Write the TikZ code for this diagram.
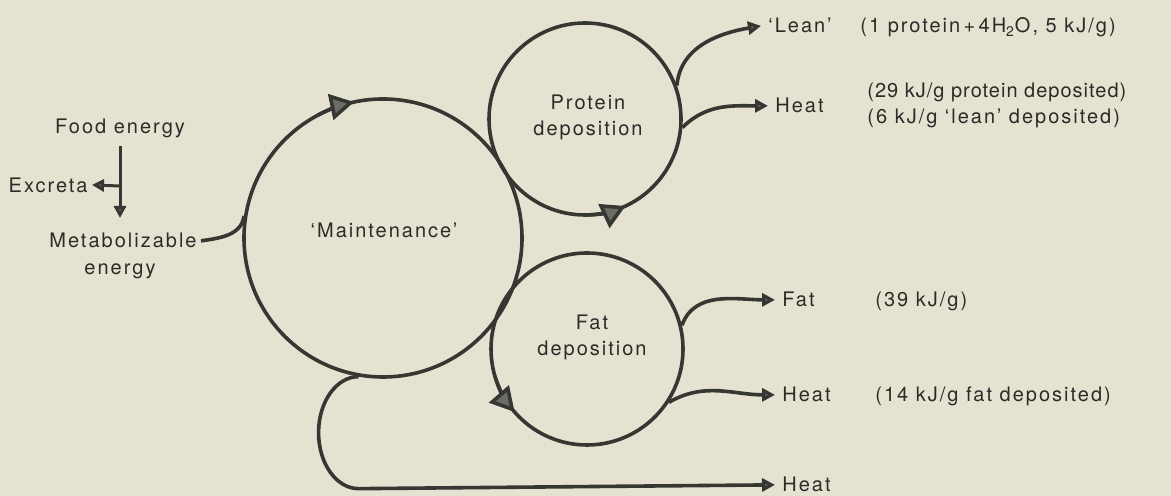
\documentclass[tikz,border=0pt]{standalone}
\usepackage{fontspec}
\setmainfont[LetterSpace=10]{TeX Gyre Heros}
\usetikzlibrary{positioning,arrows.meta,calc}
\definecolor{paper}{RGB}{229,226,209}
\definecolor{ink}{RGB}{54,54,50}
\definecolor{tipgray}{RGB}{108,108,102}

\begin{document}
\begin{tikzpicture}[
  x=0.5pt, y=0.5pt,
  font=\fontsize{10}{13}\selectfont,
  flow/.style={draw=ink, line width=1.8pt},
  pool/.style={circle, draw=ink, line width=1.8pt, inner sep=0pt},
  lab/.style={text=ink!80!black, inner sep=3.5pt},
  note/.style={text=ink!80!black, inner sep=0pt, anchor=base west},
  outflow/.style={flow, -{Triangle[length=6.5pt, width=6.5pt, fill=tipgray]}},
  turn/.style={flow, -{Triangle[length=12pt, width=13pt, fill=tipgray]}},
  feed/.style={flow, line width=1.5pt, -{Triangle[length=6pt, width=6pt, fill=tipgray]}},
]
\def\rM{139}  % maintenance radius in px
\def\rP{96}   % protein radius in px
\def\rF{96}   % fat radius in px

\path[fill=paper, use as bounding box] (0,0) rectangle (1171,496);

% ---- the three energy pools ----
\node[pool, minimum size=\rM pt] (maint) at (383,258) {};
\node[pool, minimum size=\rP pt] (prot) at (585,377) {};
\node[pool, minimum size=\rF pt] (fat) at (587,147) {};
\node[lab, inner sep=0pt] (maintlbl) at (384,266) {`Maintenance'};
\node[lab, inner sep=0pt, align=center] (protlbl) at (588,379) {Protein\\deposition};
\node[lab, inner sep=0pt, align=center] (fatlbl) at (592,159) {Fat\\deposition};

% direction of turning
\draw[turn] (maint.center) ++(118:\rM) arc[start angle=118, end angle=102, radius=\rM];
\draw[turn] (prot.center) ++(-89:\rP) arc[start angle=-89, end angle=-65, radius=\rP];
\draw[turn] (fat.center) ++(197:\rF) arc[start angle=197, end angle=221, radius=\rF];

% ---- intake ----
\node[lab, anchor=base] (food) at (120,362) {Food energy};
\node[lab, anchor=east, inner sep=2pt] (excreta) at (92,311) {Excreta};
\node[lab, anchor=base, inner sep=2pt] (metab) at (123,248) {Metabolizable};
\node[lab, anchor=base, inner sep=0pt] (metabe) at (120,221) {energy};
\coordinate (fork) at (120,310);
\coordinate (metin) at (120,278);
\draw[feed] (food.south) -- (metin);
\draw[feed] (fork) -- (excreta.east);
\draw[flow] (metab.east) to[out=8, in=-97] (maint.171);

% ---- outputs ----
\node[lab, anchor=base west] (lean) at (761,463) {`Lean'};
\node[lab, anchor=base west] (heatP) at (768,383) {Heat};
\node[lab, anchor=base west] (fatout) at (775,189) {Fat};
\node[lab, anchor=base west] (heatF) at (775,94) {Heat};
\node[lab, anchor=base west] (heatM) at (775,4) {Heat};

\draw[outflow] (prot.20) to[out=85, in=190] (lean.west);
\draw[outflow] (prot.-5) to[out=45, in=180] (heatP.west);
\draw[outflow] (fat.14) to[out=70, in=180] (fatout.west);
\draw[outflow] (fat.-33) to[out=30, in=180] (heatF.west);
\draw[outflow] (maint.-100) arc[start angle=90, end angle=270, x radius=40, y radius=56] -- (heatM.west);

% ---- energy values ----
\node[note] (leannote) at (860,463) {(1 protein\,+\,4H\textsubscript{2}O, 5 kJ/g)};
\node[note, align=left] (protnote) at (867,372)
  {{\addfontfeatures{LetterSpace=5}(29 kJ/g protein deposited)}\\(6 kJ/g `lean' deposited)};
\node[note] (fatnote) at (875,189) {(39 kJ/g)};
\node[note] (heatFnote) at (875,94) {(14 kJ/g fat deposited)};
\end{tikzpicture}
\end{document}
